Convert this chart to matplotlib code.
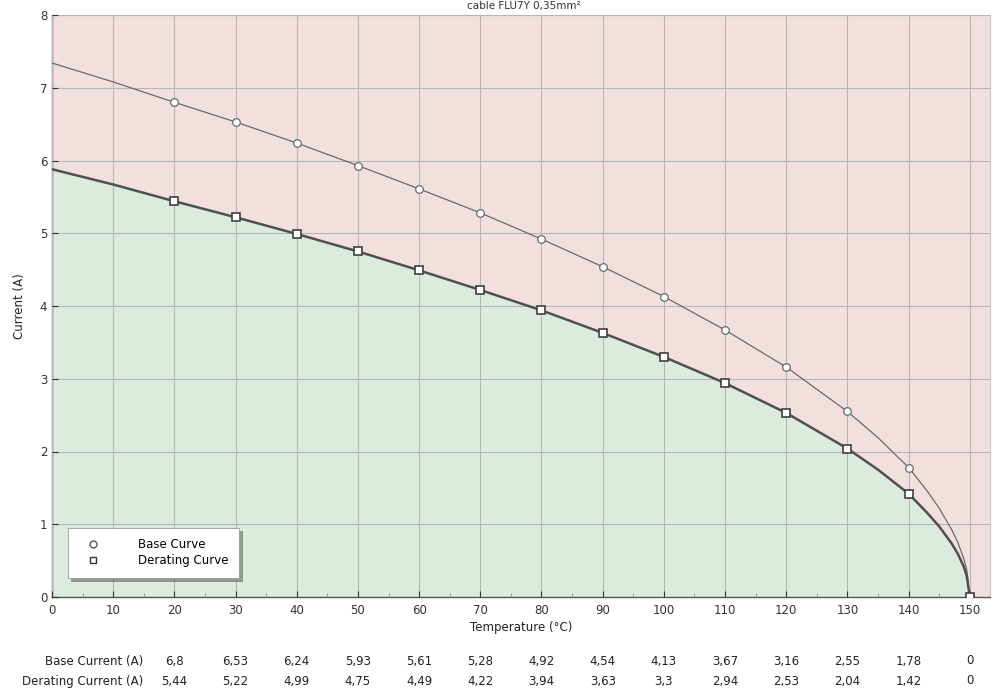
import numpy as np
import matplotlib
matplotlib.use("Agg")
import matplotlib.pyplot as plt
import matplotlib.transforms as mtransforms

# temperatures of the table points
temp = [20, 30, 40, 50, 60, 70, 80, 90, 100, 110, 120, 130, 140, 150]
base_current = [6.8, 6.53, 6.24, 5.93, 5.61, 5.28, 4.92, 4.54, 4.13, 3.67, 3.16, 2.55, 1.78, 0]
derating_current = [5.44, 5.22, 4.99, 4.75, 4.49, 4.22, 3.94, 3.63, 3.3, 2.94, 2.53, 2.04, 1.42, 0]
base_labels = ['6,8', '6,53', '6,24', '5,93', '5,61', '5,28', '4,92', '4,54', '4,13', '3,67', '3,16', '2,55', '1,78', '0']
derating_labels = ['5,44', '5,22', '4,99', '4,75', '4,49', '4,22', '3,94', '3,63', '3,3', '2,94', '2,53', '2,04', '1,42', '0']

# curve points (incl. the part before 20 and near 150)
curve_t = [0, 10, 20, 30, 40, 50, 60, 70, 80, 90, 100, 110, 120, 130, 135, 140, 143, 145, 147, 148, 149, 149.5, 150]
base_curve = [7.34, 7.08, 6.8, 6.53, 6.24, 5.93, 5.61, 5.28, 4.92, 4.54, 4.13, 3.67, 3.16, 2.55, 2.19, 1.78, 1.46, 1.22, 0.93, 0.76, 0.53, 0.37, 0]
derating_curve = [5.88, 5.67, 5.44, 5.22, 4.99, 4.75, 4.49, 4.22, 3.94, 3.63, 3.3, 2.94, 2.53, 2.04, 1.75, 1.42, 1.16, 0.97, 0.74, 0.6, 0.42, 0.29, 0]

pink = '#f1e0de'
green = '#dbebdd'
gridc = '#b6b6b6'

fig = plt.figure(figsize=(9.93, 6.94), dpi=100)
ax = fig.add_axes([52/993, 1-597/694, (990-52)/993, (597-15)/694])
ax.set_facecolor(pink)
ax.set_xlim(0, 153.3)
ax.set_ylim(0, 8)

ax.fill_between(curve_t, 0, derating_curve, color=green, lw=0, zorder=1)
ax.set_xticks(range(0, 151, 10))
ax.set_xticks(range(5, 151, 10), minor=True)
ax.set_yticks(range(0, 9))
ax.grid(True, which='major', color=gridc, lw=0.8, zorder=2)
ax.set_axisbelow(False)

ax.plot(curve_t, base_curve, color='#6a6a6a', lw=0.9, zorder=3)
ax.plot(curve_t, derating_curve, color='#505050', lw=1.8, zorder=3)
ax.plot(temp, base_current, 'o', ms=5.5, mfc='white', mec='#6a6a6a', mew=0.9, ls='none', zorder=4)
ax.plot(temp, derating_current, 's', ms=6, mfc='white', mec='#404040', mew=1.2, ls='none', zorder=4)

ax.tick_params(axis='both', which='major', labelsize=8.5, colors='#333333', direction='in', length=4)
ax.tick_params(axis='x', which='minor', direction='in', length=3, color='#888888')
ax.tick_params(axis='x', pad=5)
for s in ['top', 'right']:
    ax.spines[s].set_color('#c8c8c8')
for s in ['left', 'bottom']:
    ax.spines[s].set_color('#555555')
    ax.spines[s].set_linewidth(1.0)

ax.set_xlabel('Temperature (°C)', fontsize=8.5, color='#222222', labelpad=3)
ax.set_ylabel('Current (A)', fontsize=8.5, color='#222222', labelpad=10)

# legend box
lg = ax.legend([plt.Line2D([], [], marker='o', ls='none', mfc='white', mec='#555555', ms=5),
                plt.Line2D([], [], marker='s', ls='none', mfc='white', mec='#333333', ms=5)],
               ['Base Curve', 'Derating Curve'], loc='lower left',
               bbox_to_anchor=(16/938, 19/582), fontsize=8.5, frameon=True, fancybox=False,
               shadow=True, handletextpad=2.5, borderpad=0.9, borderaxespad=0,
               handlelength=2.5, labelspacing=0.25)
lg.get_frame().set_edgecolor('#999999')
lg.get_frame().set_linewidth(0.6)
lg.set_zorder(5)

fig.text(524/993, 1 - 6/694, 'cable FLU7Y 0,35mm²', ha='center', va='center', fontsize=7.5, color='#333333')

# table below the plot
trans = mtransforms.blended_transform_factory(ax.transData, fig.transFigure)
for t, b, d in zip(temp, base_labels, derating_labels):
    ax.text(t, 1 - 661/694, b, transform=trans, ha='center', va='center', fontsize=8.5, color='#222222')
    ax.text(t, 1 - 681/694, d, transform=trans, ha='center', va='center', fontsize=8.5, color='#222222')
fig.text(143/993, 1 - 661/694, 'Base Current (A)', ha='right', va='center', fontsize=8.5, color='#222222')
fig.text(143/993, 1 - 681/694, 'Derating Current (A)', ha='right', va='center', fontsize=8.5, color='#222222')

fig.savefig('out.png', dpi=100)
